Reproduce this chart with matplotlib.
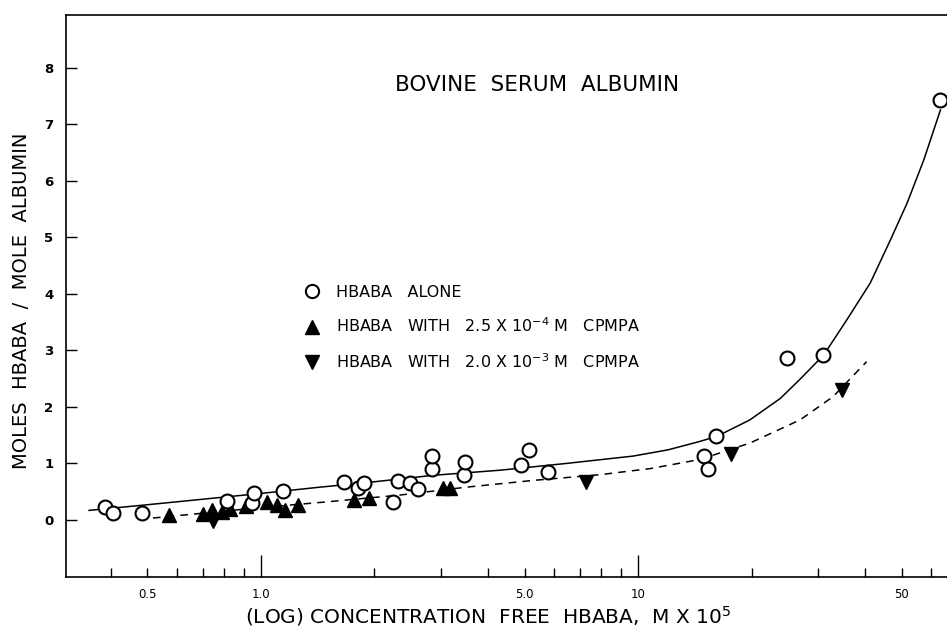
import matplotlib
matplotlib.use("Agg")
import matplotlib.pyplot as plt
from matplotlib.lines import Line2D

# ---- data ----
alone_x = [0.386, 0.404, 0.483, 0.814, 0.945, 0.956, 1.146, 1.66, 1.81, 1.876,
           2.235, 2.305, 2.48, 2.61, 2.84, 2.85, 3.45, 3.48, 4.89, 5.15, 5.76,
           14.96, 15.3, 16.07, 24.9, 31.0, 63.3]
alone_y = [0.23, 0.12, 0.13, 0.33, 0.30, 0.47, 0.52, 0.68, 0.56, 0.66,
           0.31, 0.69, 0.66, 0.54, 0.91, 1.13, 0.80, 1.02, 0.97, 1.24, 0.84,
           1.14, 0.91, 1.49, 2.87, 2.91, 7.43]

low_x = [0.57, 0.70, 0.74, 0.79, 0.83, 0.91, 1.04, 1.10, 1.16, 1.25,
         1.77, 1.94, 3.04, 3.17]
low_y = [0.09, 0.11, 0.17, 0.15, 0.20, 0.24, 0.31, 0.27, 0.18, 0.26,
         0.35, 0.39, 0.56, 0.57]

high_x = [0.747, 7.28, 17.65, 34.7]
high_y = [-0.02, 0.67, 1.17, 2.29]

# hand-drawn curves
solid_x = [0.35, 0.5, 1.0, 1.43, 1.9, 2.86, 4.3, 6.45, 9.7, 12.0, 14.6, 16.2,
           19.8, 23.85, 27.0, 31.1, 35.8, 41.3, 46.7, 51.7, 57.3, 63.4]
solid_y = [0.17, 0.27, 0.47, 0.58, 0.66, 0.79, 0.88, 1.00, 1.13, 1.24, 1.39, 1.48,
           1.77, 2.15, 2.50, 2.92, 3.54, 4.19, 4.95, 5.60, 6.37, 7.25]

dash_x = [0.517, 1.0, 1.434, 2.33, 3.5, 5.27, 7.9, 10.8, 14.6, 19.8, 26.9, 32.9, 40.4]
dash_y = [0.035, 0.22, 0.31, 0.44, 0.58, 0.70, 0.80, 0.91, 1.07, 1.36, 1.77, 2.18, 2.80]

xtick_vals = [0.5, 1.0, 5.0, 10, 50]
xtick_labels = ["0.5", "1.0", "5.0", "10", "50"]
xminor_vals = [0.4, 0.6, 0.7, 0.8, 0.9, 2, 3, 4, 6, 7, 8, 9, 20, 30, 40, 60]
ytick_vals = [0, 1, 2, 3, 4, 5, 6, 7, 8]

labels = ["HBABA   ALONE",
          r"HBABA   WITH   2.5 X 10$^{-4}$ M   CPMPA",
          r"HBABA   WITH   2.0 X 10$^{-3}$ M   CPMPA"]

# ---- figure ----
plt.rcParams['font.family'] = ['DejaVu Sans']
fig = plt.figure(figsize=(9.47, 6.29), dpi=100)
ax = fig.add_axes([66/947, 52/629, 881/947, 562/629])

ax.set_xscale('log')
ax.set_xlim(0.304, 66.0)
ax.set_ylim(-1.008, 8.93)

ax.plot(solid_x, solid_y, color='black', lw=1.1, zorder=2)
ax.plot(dash_x, dash_y, color='black', lw=1.1, ls=(0, (5, 4)), zorder=2)

ax.plot(alone_x, alone_y, 'o', ms=10, mfc='white', mec='black', mew=1.5,
        zorder=4, clip_on=False)
ax.plot(low_x, low_y, '^', ms=9.5, color='black', zorder=3)
ax.plot(high_x, high_y, 'v', ms=9.5, color='black', zorder=3)

ax.spines['right'].set_visible(False)
for s in ['left', 'top', 'bottom']:
    ax.spines[s].set_linewidth(1.2)

ax.set_xticks(xtick_vals)
ax.set_xticklabels(xtick_labels)
ax.set_xticks(xminor_vals, minor=True)
ax.xaxis.set_minor_formatter(matplotlib.ticker.NullFormatter())
ax.tick_params(axis='x', which='both', direction='in', top=False, labelsize=8.5, pad=8)
ax.tick_params(axis='x', which='major', length=6.5, width=1.0)
ax.tick_params(axis='x', which='minor', length=6.5, width=1.0)
for t, v in zip(ax.xaxis.get_major_ticks(), xtick_vals):
    if v in (1.0, 10):
        t.tick1line.set_markersize(16)

ax.set_yticks(ytick_vals)
ax.set_yticklabels([str(v) for v in ytick_vals], fontweight='bold')
ax.tick_params(axis='y', which='both', direction='in', right=False, labelsize=9.5,
               length=8, width=1.0, pad=9)
ax.yaxis.set_minor_locator(matplotlib.ticker.NullLocator())

ax.text(0.3734, 0.8754, "BOVINE  SERUM  ALBUMIN", transform=ax.transAxes,
        fontsize=15.5, ha='left', va='center')

fig.text(22/947, 1 - 301/629, "MOLES  HBABA  /  MOLE  ALBUMIN", rotation=90,
         fontsize=14, ha='center', va='center')
fig.text(488/947, 1 - 616/629, r"(LOG) CONCENTRATION  FREE  HBABA,  M X 10$^5$",
         fontsize=14.5, ha='center', va='center')

handles = [Line2D([], [], ls='none', marker='o', ms=9.5, mfc='white', mec='black', mew=1.5),
           Line2D([], [], ls='none', marker='^', ms=9.5, color='black'),
           Line2D([], [], ls='none', marker='v', ms=9.5, color='black')]
ax.legend(handles, labels, loc='upper left', bbox_to_anchor=(0.270, 0.52),
          frameon=False, fontsize=11.5, handlelength=1.0, handletextpad=1.0,
          labelspacing=1.05, borderpad=0, borderaxespad=0)

fig.savefig("out.png", dpi=100)
